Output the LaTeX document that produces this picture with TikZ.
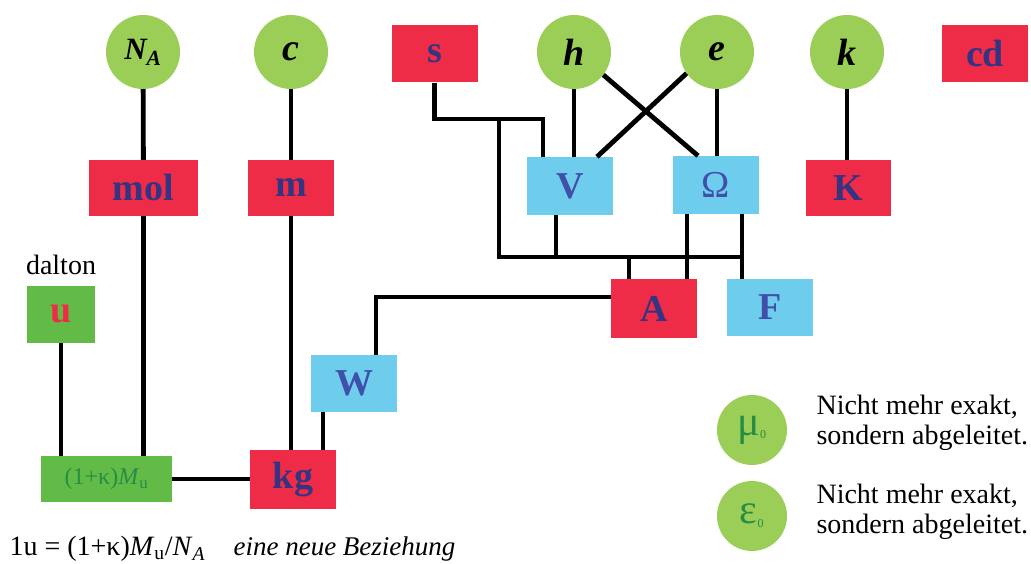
\documentclass[tikz,border=0pt]{standalone}
\usepackage{fontspec}
\setmainfont{Liberation Serif}
\definecolor{sired}{RGB}{238,44,72}
\definecolor{sky}{RGB}{110,205,236}
\definecolor{lime}{RGB}{155,206,86}
\definecolor{leaf}{RGB}{99,187,71}
\definecolor{ink}{RGB}{52,52,130}
\definecolor{blueink}{RGB}{64,80,170}
\definecolor{leafink}{RGB}{38,140,70}
\begin{document}
\begin{tikzpicture}[x=1pt,y=-1pt,
    link/.style={line width=4.8pt},
    unitbox/.style={inner sep=0pt,minimum width=86pt,minimum height=57pt,
      font=\bfseries\fontsize{38}{40}\selectfont},
    baseunit/.style={unitbox,fill=sired,text=ink},
    derived/.style={unitbox,fill=sky,text=blueink},
    const/.style={circle,fill=lime,inner sep=0pt,minimum size=74pt,
      font=\bfseries\itshape\fontsize{38}{40}\selectfont},
    derconst/.style={const,minimum size=70pt,font=\fontsize{42}{44}\selectfont,text=leafink},
    note/.style={font=\fontsize{28}{30}\selectfont,align=left,anchor=west}]
  \useasboundingbox (0,0) rectangle (1031,564);

  % defining constants
  \node[const,font=\bfseries\itshape\fontsize{31}{34}\selectfont] (NA) at (143,52) {N\textsubscript{A}};
  \node[const] (c) at (291,52) {c};
  \node[const] (h) at (574,52) {h};
  \node[const] (e) at (717,52) {e};
  \node[const] (k) at (847,52) {k};

  % base units
  \node[baseunit] (s) at (434.5,54) {s};
  \node[baseunit] (cd) at (985,53.5) {cd};
  \node[baseunit,minimum width=109pt,minimum height=56pt] (mol) at (143.5,188) {mol};
  \node[baseunit,minimum height=56pt] (m) at (291,188) {m};
  \node[baseunit,minimum width=85pt,minimum height=56pt] (K) at (848.5,188) {K};
  \node[baseunit,minimum height=59pt] (A) at (654,308.5) {A};
  \node[baseunit,minimum height=59pt] (kg) at (293,479.5) {kg};

  % derived units
  \node[derived,minimum height=58pt] (V) at (570,186) {V};
  \node[derived,minimum height=58pt,font=\fontsize{38}{40}\selectfont] (Om) at (716,185) {Ω};
  \node[derived] (F) at (770,307.5) {F};
  \node[derived] (W) at (354,383.5) {W};

  % dalton
  \node[unitbox,fill=leaf,text=sired,minimum width=68pt] (u) at (61,314.5) {u};
  \node[note,anchor=center] (dalton) at (61,265) {dalton};
  \node[fill=leaf,text=leafink,inner sep=0pt,minimum width=131pt,minimum height=46pt,
    font=\fontsize{24}{26}\selectfont] (Mu) at (106.5,479) {(1+κ)\textit{M}\textsubscript{u}};

  % connectors
  \draw[link] (NA) -- (mol);
  \draw[link] (mol.south) -- (mol.south |- Mu.north);
  \draw[link] (c) -- (m);
  \draw[link] (m.south) -- (m.south |- kg.north);
  \draw[link] (u.south) -- (u.south |- Mu.north);
  \draw[link] (Mu.east) -- (Mu.east -| kg.west);
  \draw[link] ([xshift=-31pt]W.south) -- ([xshift=30pt]kg.north);
  \draw[link] ([xshift=22pt]W.north) |- ([yshift=11.5pt]A.west);
  \draw[link] (h.south) -- (h.south |- V.north);
  \draw[link] (e.south) -- (e.south |- Om.north);
  \draw[link] (k.south) -- (k.south |- K.north);
  \draw[link] (h.-38) -- ([xshift=-18pt]Om.north);
  \draw[link] (e.-145) -- ([xshift=27pt]V.north);

  \coordinate (tap) at (499,119);
  \coordinate (bus) at (499,257);
  \coordinate (vs) at ([xshift=-14pt]V.south);
  \coordinate (os) at ([xshift=26pt]Om.south);
  \coordinate (an) at ([xshift=-25pt]A.north);
  \draw[link] (s.south) -- (s.south |- tap) -| ([xshift=-27pt]V.north);
  \draw[link] (tap) -- (bus) -- (os |- bus);
  \draw[link] (vs) -- (vs |- bus);
  \draw[link] (an) -- (an |- bus);
  \draw[link] (os) -- ([xshift=-28pt]F.north);
  \draw[link] ([xshift=-29pt]Om.south) -- ([xshift=33pt]A.north);

  % derived constants
  \node[derconst] (mu0) at (752,430) {μ\textsubscript{\fontsize{12}{12}\selectfont 0}};
  \node[derconst] (eps0) at (752,516) {ε\textsubscript{\fontsize{12}{12}\selectfont 0}};
  \node[note] (mutext) at (813,423) {Nicht mehr exakt,\\sondern abgeleitet.};
  \node[note] (epstext) at (813,512) {Nicht mehr exakt,\\sondern abgeleitet.};

  \node[note] (rel) at (6,549) {1u = (1+κ)\textit{M}\textsubscript{u}/\textit{N}\textsubscript{\textit{A}}};
  \node[note,font=\itshape\fontsize{27}{30}\selectfont] (relnote) at (230,549) {eine neue Beziehung};
\end{tikzpicture}
\end{document}
